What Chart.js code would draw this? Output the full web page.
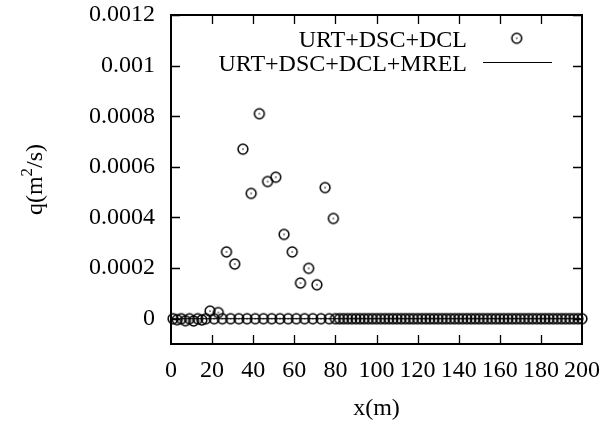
<!DOCTYPE html>
<html>
<head>
<meta charset="utf-8">
<script src="https://cdn.jsdelivr.net/npm/chart.js@4/dist/chart.umd.min.js"></script>
<style>
  html, body { margin: 0; padding: 0; background: #ffffff; }
  canvas { display: block; }
</style>
</head>
<body>
<canvas id="flux" width="606" height="425"></canvas>
<script>
// Sediment flux q along the channel, x in metres.
// Coarse section (0-80 m), sampled every 2 m.
const xCoarse = [
  1, 3, 5, 7, 9, 11, 13, 15, 17, 19,
  21, 23, 25, 27, 29, 31, 33, 35, 37, 39,
  41, 43, 45, 47, 49, 51, 53, 55, 57, 59,
  61, 63, 65, 67, 69, 71, 73, 75, 77, 79
];
const qCoarse = [
  0, -0.000004, 0, -0.000008, 0, -0.000009, 0, -0.000005, 0, 0.00003,
  0, 0.000024, 0, 0.000264, 0, 0.000216, 0, 0.00067, 0, 0.000495,
  0, 0.00081, 0, 0.000542, 0, 0.000559, 0, 0.000333, 0, 0.000264,
  0, 0.000141, 0, 0.000199, 0, 0.000134, 0, 0.000518, 0, 0.000396
];
// Fine section (80-200 m).
const xFine = [
  80, 82, 84, 86, 88, 90, 92, 94, 96, 98,
  100, 102, 104, 106, 108, 110, 112, 114, 116, 118,
  120, 122, 124, 126, 128, 130, 132, 134, 136, 138,
  140, 142, 144, 146, 148, 150, 152, 154, 156, 158,
  160, 162, 164, 166, 168, 170, 172, 174, 176, 178,
  180, 182, 184, 186, 188, 190, 192, 194, 196, 198, 200
];
const qFine = [
  0, 0, 0, 0, 0, 0, 0, 0, 0, 0,
  0, 0, 0, 0, 0, 0, 0, 0, 0, 0,
  0, 0, 0, 0, 0, 0, 0, 0, 0, 0,
  0, 0, 0, 0, 0, 0, 0, 0, 0, 0,
  0, 0, 0, 0, 0, 0, 0, 0, 0, 0,
  0, 0, 0, 0, 0, 0, 0, 0, 0, 0, 0
];
// Model with MREL: flux stays zero over the whole reach.
const xMrel = [0, 40, 80, 120, 160, 200];
const qMrel = [0, 0, 0, 0, 0, 0];

const seriesNames = ['URT+DSC+DCL', 'URT+DSC+DCL+MREL'];
const xTickValues = [0, 20, 40, 60, 80, 100, 120, 140, 160, 180, 200];
const xTickLabels = ['0', '20', '40', '60', '80', '100', '120', '140', '160', '180', '200'];
const yTickValues = [0, 0.0002, 0.0004, 0.0006, 0.0008, 0.001, 0.0012];
const yTickLabels = ['0', '0.0002', '0.0004', '0.0006', '0.0008', '0.001', '0.0012'];

const FONT = "'Liberation Serif', 'Times New Roman', serif";

// Open circle with a centre dot (gnuplot point type 6 look).
function makeDotCircle(r) {
  const size = Math.ceil(r * 2 + 4);
  const c = document.createElement('canvas');
  c.width = size; c.height = size;
  const g = c.getContext('2d');
  const m = size / 2;
  g.strokeStyle = '#000';
  g.lineWidth = 1.5;
  g.beginPath(); g.arc(m, m, r, 0, Math.PI * 2); g.stroke();
  g.fillStyle = '#000';
  g.beginPath(); g.arc(m, m, 0.8, 0, Math.PI * 2); g.fill();
  return c;
}
const dotCircle = makeDotCircle(4.9);

const pts = (xs, ys) => xs.map((x, i) => ({ x: x, y: ys[i] }));

// Frame, inward ticks on all four sides, key and axis titles.
const decorations = {
  id: 'decorations',
  afterDraw(chart) {
    const { ctx, chartArea: a, scales: { x, y } } = chart;
    ctx.save();
    ctx.strokeStyle = '#000';
    ctx.lineWidth = 1.3;
    const tl = 9;
    ctx.beginPath();
    xTickValues.forEach(v => {
      const px = Math.round(x.getPixelForValue(v)) + 0.5;
      if (v === 0 || v === 200) return;
      ctx.moveTo(px, a.bottom); ctx.lineTo(px, a.bottom - tl);
      ctx.moveTo(px, a.top); ctx.lineTo(px, a.top + tl);
    });
    yTickValues.forEach(v => {
      const py = Math.round(y.getPixelForValue(v)) + 0.5;
      ctx.moveTo(a.left, py); ctx.lineTo(a.left + tl, py);
      ctx.moveTo(a.right, py); ctx.lineTo(a.right - tl, py);
    });
    ctx.stroke();
    ctx.lineWidth = 2;
    ctx.strokeRect(a.left, a.top, a.right - a.left, a.bottom - a.top);

    // key
    ctx.fillStyle = '#000';
    ctx.font = '24px ' + FONT;
    ctx.textAlign = 'right';
    ctx.textBaseline = 'alphabetic';
    ctx.fillText(seriesNames[0], 467, 47);
    ctx.fillText(seriesNames[1], 467, 70.5);
    ctx.drawImage(dotCircle, 516.7 - dotCircle.width / 2, 38.3 - dotCircle.height / 2);
    ctx.lineWidth = 1;
    ctx.beginPath();
    ctx.moveTo(483, 62.5); ctx.lineTo(552, 62.5);
    ctx.stroke();

    // x title
    ctx.textAlign = 'center';
    ctx.textBaseline = 'middle';
    ctx.font = '24px ' + FONT;
    ctx.fillText('x(m)', (a.left + a.right) / 2, 409);

    // y title with superscript
    ctx.save();
    ctx.translate(34, (a.top + a.bottom) / 2);
    ctx.rotate(-Math.PI / 2);
    const big = '24px ' + FONT, small = '17px ' + FONT;
    ctx.font = big; const w1 = ctx.measureText('q(m').width;
    const w3 = ctx.measureText('/s)').width;
    ctx.font = small; const w2 = ctx.measureText('2').width;
    let sx = -(w1 + w2 + w3) / 2;
    ctx.textAlign = 'left';
    ctx.textBaseline = 'alphabetic';
    const base = 8;
    ctx.font = big; ctx.fillText('q(m', sx, base); sx += w1;
    ctx.font = small; ctx.fillText('2', sx, base - 10); sx += w2;
    ctx.font = big; ctx.fillText('/s)', sx, base);
    ctx.restore();
    ctx.restore();
  }
};

// Fixed axis boxes so the plot frame sits at a set place on the canvas.
function fixBox(size, horizontal) {
  return (s) => {
    if (horizontal) s.height = size; else s.width = size;
    s.paddingTop = 0; s.paddingBottom = 0; s.paddingLeft = 0; s.paddingRight = 0;
  };
}

new Chart(document.getElementById('flux'), {
  type: 'scatter',
  data: {
    datasets: [
      {
        label: seriesNames[0],
        data: pts(xCoarse, qCoarse).concat(pts(xFine, qFine)),
        pointStyle: dotCircle,
        pointRadius: 5,
        showLine: false,
        clip: false,
        order: 1
      },
      {
        label: seriesNames[1],
        data: pts(xMrel, qMrel),
        showLine: true,
        borderColor: '#000',
        borderWidth: 1,
        pointRadius: 0,
        fill: false,
        clip: false,
        order: 0
      }
    ]
  },
  options: {
    responsive: false,
    animation: false,
    events: [],
    layout: { autoPadding: false, padding: { top: 15, right: 24, left: 0, bottom: 0 } },
    plugins: { legend: { display: false }, tooltip: { enabled: false }, title: { display: false } },
    scales: {
      x: {
        type: 'linear',
        min: 0, max: 200,
        grid: { display: false, drawTicks: false },
        border: { display: false },
        ticks: {
          color: '#000',
          font: { family: FONT, size: 24 },
          padding: 12,
          maxRotation: 0,
          autoSkip: false,
          callback: (v) => { const i = xTickValues.indexOf(v); return i >= 0 ? xTickLabels[i] : ''; }
        },
        afterBuildTicks: (s) => { s.ticks = xTickValues.map(v => ({ value: v })); },
        afterFit: fixBox(81, true)
      },
      y: {
        type: 'linear',
        min: -0.0001, max: 0.0012,
        grid: { display: false, drawTicks: false },
        border: { display: false },
        ticks: {
          color: '#000',
          font: { family: FONT, size: 24 },
          padding: 16,
          autoSkip: false,
          callback: (v) => { const i = yTickValues.findIndex(t => Math.abs(t - v) < 1e-9); return i >= 0 ? yTickLabels[i] : ''; }
        },
        afterBuildTicks: (s) => { s.ticks = yTickValues.map(v => ({ value: v })); },
        afterFit: fixBox(171, false)
      }
    }
  },
  plugins: [decorations]
});
</script>
</body>
</html>
